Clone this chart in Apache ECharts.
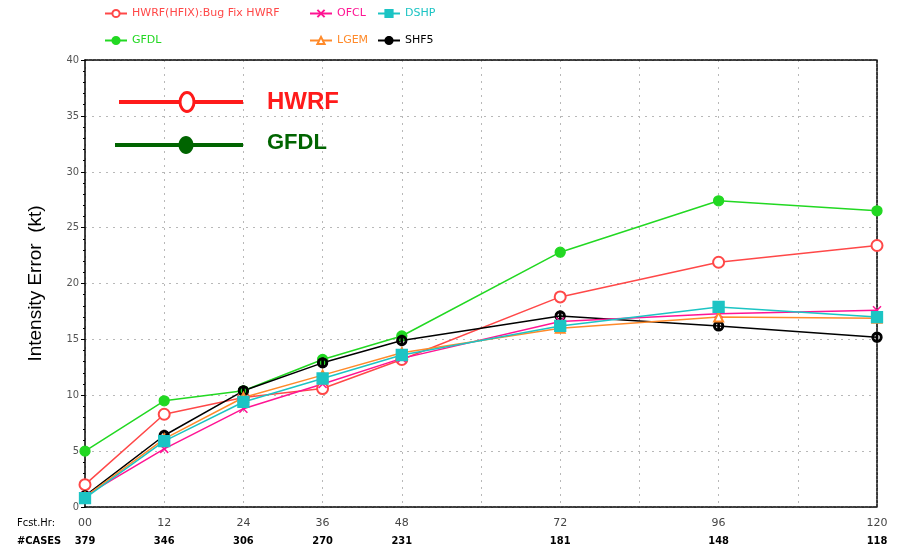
<!DOCTYPE html>
<html>
<head>
<meta charset="utf-8">
<script src="https://cdn.jsdelivr.net/npm/echarts@6/dist/echarts.min.js"></script>
<style>html,body{margin:0;padding:0;background:#fff}#c{width:902px;height:550px}</style>
</head>
<body>
<div id="c"></div>
<script>
const hours = [0, 12, 24, 36, 48, 72, 96, 120];
const hourLabels = ['00', '12', '24', '36', '48', '72', '96', '120'];
const cases = [379, 346, 306, 270, 231, 181, 148, 118];
const yTicks = [0, 5, 10, 15, 20, 25, 30, 35, 40];

const hwrf = [2.0, 8.3, 9.8, 10.6, 13.2, 18.8, 21.9, 23.4];
const gfdl = [5.0, 9.5, 10.4, 13.2, 15.3, 22.8, 27.4, 26.5];
const shf5 = [1.0, 6.4, 10.4, 12.9, 14.9, 17.1, 16.2, 15.2];
const ofcl = [1.0, 5.2, 8.8, 11.0, 13.3, 16.6, 17.3, 17.6];
const lgem = [0.9, 6.1, 9.8, 11.8, 13.8, 16.0, 17.0, 16.9];
const dshp = [0.8, 5.9, 9.4, 11.5, 13.6, 16.2, 17.9, 17.0];

const names = {
  hwrf: 'HWRF(HFIX):Bug Fix HWRF', gfdl: 'GFDL', ofcl: 'OFCL', lgem: 'LGEM', dshp: 'DSHP', shf5: 'SHF5'
};
const colors = {
  hwrf: '#ff4848', gfdl: '#22d822', ofcl: '#ff1493', lgem: '#ff8a2a', dshp: '#1cc4c4', shf5: '#000000'
};

const pairs = arr => hours.map((h, i) => [h, arr[i]]);
const xSym = 'path://M0,0L10,10M10,0L0,10';
const shfSym = 'path://M5,0A5,5,0,1,1,5,10A5,5,0,1,1,5,0ZM5,1.6A3.4,3.4,0,1,0,5,8.4A3.4,3.4,0,1,0,5,1.6ZM4.3,0L5.7,0L5.7,10L4.3,10Z';

function mk(key, data, symbol, size, extra) {
  return Object.assign({
    name: names[key], type: 'line', data: pairs(data), symbol: symbol, symbolSize: size,
    lineStyle: { color: colors[key], width: 1.5 },
    itemStyle: { color: colors[key], borderColor: colors[key], borderWidth: 1.3 },
    emphasis: { disabled: true }, animation: false, z: 3
  }, extra || {});
}

const series = [
  mk('hwrf', hwrf, 'emptyCircle', 11),
  mk('gfdl', gfdl, 'circle', 10),
  mk('shf5', shf5, shfSym, 10),
  mk('ofcl', ofcl, xSym, 8, { itemStyle: { color: colors.ofcl, borderColor: colors.ofcl, borderWidth: 1.5 } }),
  mk('lgem', lgem, 'emptyTriangle', 9),
  mk('dshp', dshp, 'rect', 11)
];

const legFont = { fontFamily: 'DejaVu Sans', fontSize: 11 };
function leg(keys, left) {
  return {
    orient: 'vertical', left: left, top: 3, itemGap: 16, itemWidth: 22, itemHeight: 9,
    selectedMode: false,
    data: keys.map(k => ({ name: names[k], textStyle: Object.assign({ color: colors[k] }, legFont) })),
    textStyle: legFont
  };
}

const dashedLine = { show: true, onZero: false, lineStyle: { color: '#000', width: 1.5, type: [3, 1] } };

const chart = echarts.init(document.getElementById('c'), null, { renderer: 'canvas' });
chart.setOption({
  animation: false,
  backgroundColor: '#fff',
  grid: { left: 85, right: 25, top: 60, bottom: 38 },
  legend: [leg(['hwrf', 'gfdl'], 99), leg(['ofcl', 'lgem'], 304), leg(['dshp', 'shf5'], 372)],
  xAxis: [{
    type: 'value', min: 0, max: 120, interval: 12, position: 'bottom',
    axisLine: dashedLine,
    axisTick: { show: false },
    splitLine: { show: true, lineStyle: { color: '#b8b8b8', type: [2, 5], width: 1 } },
    axisLabel: {
      margin: 7, lineHeight: 18,
      formatter: v => {
        const i = hours.indexOf(v);
        return i < 0 ? '' : '{h|' + hourLabels[i] + '}\n{c|' + cases[i] + '}';
      },
      rich: {
        h: { fontFamily: 'DejaVu Sans', fontSize: 11, color: '#444', lineHeight: 18 },
        c: { fontFamily: 'DejaVu Sans Condensed', fontSize: 11, fontWeight: 'bold', color: '#000', lineHeight: 18 }
      }
    }
  }, {
    type: 'value', min: 0, max: 120, interval: 12, position: 'top',
    axisLine: dashedLine,
    axisTick: { show: false }, axisLabel: { show: false }, splitLine: { show: false }
  }],
  yAxis: [{
    type: 'value', min: 0, max: 40, interval: 5, position: 'left',
    name: 'Intensity Error  (kt)', nameLocation: 'middle', nameGap: 40, nameRotate: 90,
    nameTextStyle: { fontFamily: 'Liberation Sans', fontSize: 19, color: '#000' },
    axisLine: { show: true, onZero: false, lineStyle: { color: '#000', width: 1.5 } },
    axisTick: { show: true, length: 4, lineStyle: { color: '#000' } },
    minorTick: { show: true, splitNumber: 5, length: 2, lineStyle: { color: '#000' } },
    splitLine: { show: true, lineStyle: { color: '#b8b8b8', type: [2, 5], width: 1 } },
    axisLabel: {
      margin: 6, fontFamily: 'DejaVu Sans Condensed', fontSize: 11, color: '#555',
      formatter: v => yTicks.indexOf(v) >= 0 ? String(v) : ''
    }
  }, {
    type: 'value', min: 0, max: 40, interval: 5, position: 'right',
    axisLine: dashedLine,
    axisTick: { show: false }, axisLabel: { show: false }, splitLine: { show: false }
  }],
  series: series,
  graphic: [
    { type: 'line', shape: { x1: 119, y1: 102, x2: 243, y2: 102 }, style: { stroke: '#ff1a1a', lineWidth: 4 }, z: 10 },
    { type: 'ellipse', shape: { cx: 187, cy: 102, rx: 7, ry: 9.5 }, style: { fill: '#fff', stroke: '#ff1a1a', lineWidth: 3 }, z: 11 },
    { type: 'text', left: 267, top: 90, style: { text: 'HWRF', fill: '#ff1a1a', font: 'bold 24px "Liberation Sans"' }, z: 11 },
    { type: 'line', shape: { x1: 115, y1: 145, x2: 243, y2: 145 }, style: { stroke: '#006400', lineWidth: 4 }, z: 10 },
    { type: 'ellipse', shape: { cx: 186, cy: 145, rx: 7.5, ry: 9 }, style: { fill: '#006400' }, z: 11 },
    { type: 'text', left: 267, top: 132, style: { text: 'GFDL', fill: '#006400', font: 'bold 22px "Liberation Sans"' }, z: 11 },
    { type: 'text', left: 17, top: 518, style: { text: 'Fcst.Hr:', fill: '#000', font: '11px "DejaVu Sans Condensed"' } },
    { type: 'text', left: 17, top: 536, style: { text: '#CASES', fill: '#000', font: 'bold 11px "DejaVu Sans Condensed"' } }
  ]
});
</script>
</body>
</html>
